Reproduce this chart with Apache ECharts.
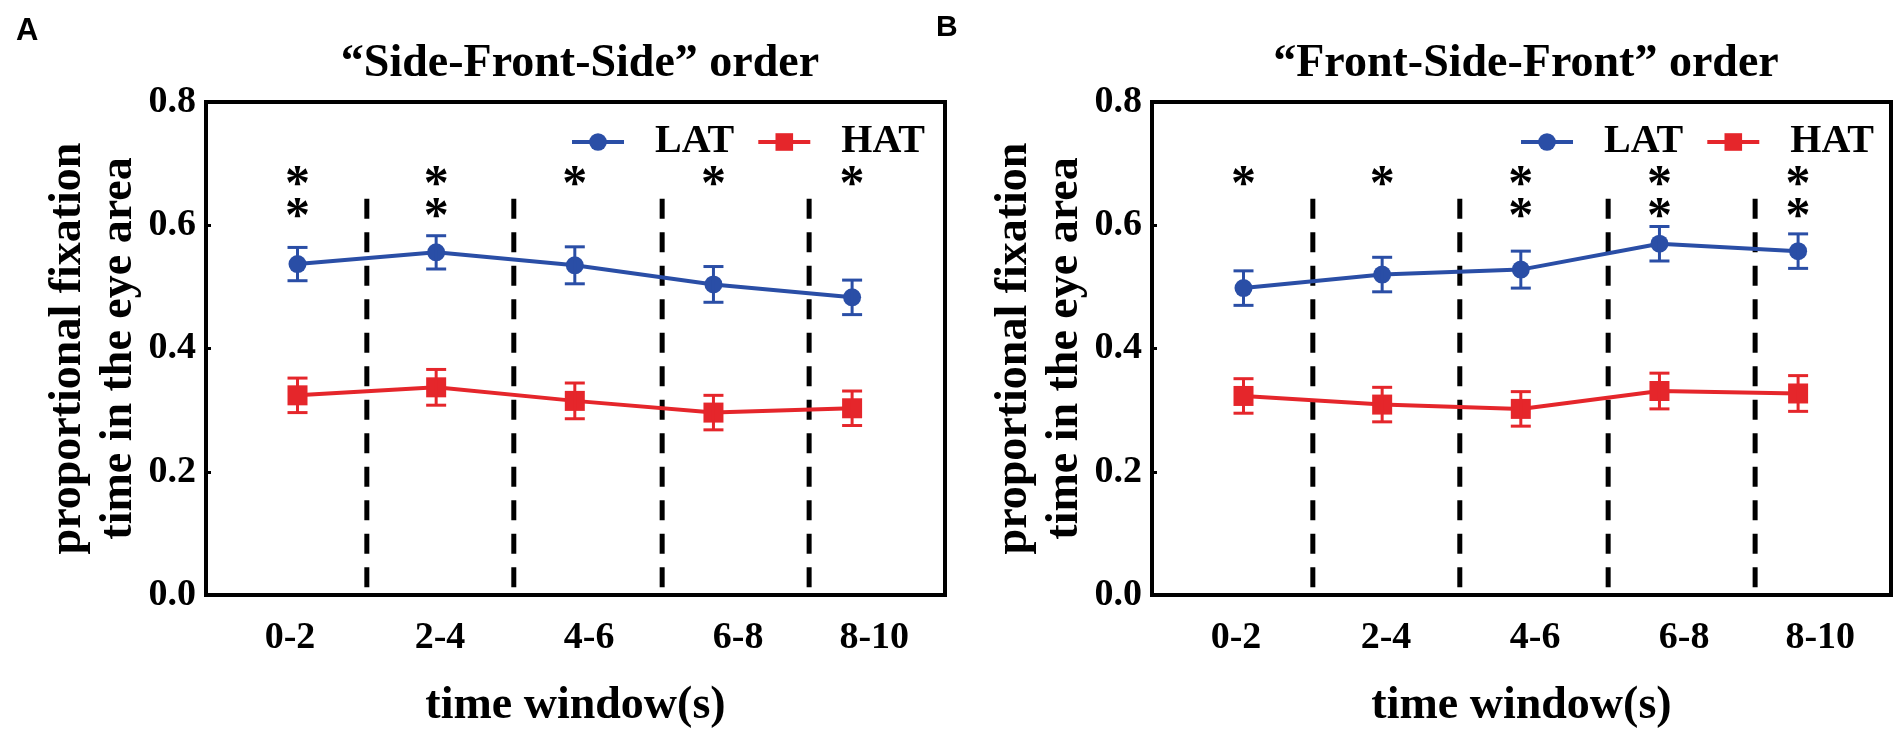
<!DOCTYPE html>
<html>
<head>
<meta charset="utf-8">
<script src="https://cdn.jsdelivr.net/npm/echarts@6/dist/echarts.min.js"></script>
<style>
  html, body { margin: 0; padding: 0; background: #fff; }
  #main { width: 1904px; height: 742px; }
</style>
</head>
<body>
<div id="main"></div>
<script>
var chartDom = document.getElementById('main');
var myChart = echarts.init(chartDom);
var option;

// x categories and where things sit on the (hidden) value x axis
const cats = ['0-2', '2-4', '4-6', '6-8', '8-10'];
const markerX = [1, 2, 3, 4, 5];
const labelX = [0.946, 2.028, 3.103, 4.178, 5.16];
const dividerX = [1.50, 2.56, 3.63, 4.69];
const dividerTop = 0.643;
const starRows = [0.679, 0.628];

// panel A  "Side-Front-Side"
const latA = [0.537, 0.556, 0.535, 0.504, 0.483];
const latAErr = [0.027, 0.027, 0.030, 0.029, 0.028];
const hatA = [0.324, 0.337, 0.315, 0.296, 0.303];
const hatAErr = [0.028, 0.029, 0.029, 0.028, 0.028];
const starsA = [2, 2, 1, 1, 1];

// panel B  "Front-Side-Front"
const latB = [0.498, 0.520, 0.528, 0.570, 0.558];
const latBErr = [0.028, 0.028, 0.030, 0.028, 0.028];
const hatB = [0.323, 0.309, 0.302, 0.331, 0.327];
const hatBErr = [0.028, 0.028, 0.028, 0.029, 0.029];
const starsB = [1, 1, 2, 2, 2];

const BLUE = '#2a4ea6';
const RED = '#e5262b';
const SERIF = '"Liberation Serif", "Times New Roman", serif';

function errData(vals, errs) {
  return vals.map((v, i) => [markerX[i], v - errs[i], v + errs[i]]);
}
function starData(counts) {
  const out = [];
  counts.forEach((c, i) => {
    for (let k = 0; k < c; k++) out.push([markerX[i], starRows[k]]);
  });
  return out;
}

const errorBarRender = function (color) {
  return function (params, api) {
    const lo = api.coord([api.value(0), api.value(1)]);
    const hi = api.coord([api.value(0), api.value(2)]);
    const w = 10;
    const st = { stroke: color, lineWidth: 3 };
    return {
      type: 'group',
      children: [
        { type: 'line', shape: { x1: lo[0], y1: lo[1], x2: hi[0], y2: hi[1] }, style: st },
        { type: 'line', shape: { x1: lo[0] - w, y1: lo[1], x2: lo[0] + w, y2: lo[1] }, style: st },
        { type: 'line', shape: { x1: hi[0] - w, y1: hi[1], x2: hi[0] + w, y2: hi[1] }, style: st }
      ]
    };
  };
};

function dividerRender(params, api) {
  const top = api.coord([api.value(0), dividerTop]);
  const bot = api.coord([api.value(0), 0]);
  return {
    type: 'line',
    shape: { x1: top[0], y1: top[1], x2: bot[0], y2: bot[1] },
    style: { stroke: '#000', lineWidth: 5, lineDash: [20, 13.5] }
  };
}

function starRender(params, api) {
  const p = api.coord([api.value(0), api.value(1)]);
  return {
    type: 'text',
    x: p[0],
    y: p[1] + 10,
    style: {
      text: '*',
      fill: '#000',
      font: 'bold 50px ' + SERIF,
      align: 'center',
      verticalAlign: 'middle'
    }
  };
}

function makeAxes(gi) {
  const xAxis = {
    gridIndex: gi,
    type: 'value',
    min: 0.34,
    max: 5.67,
    splitLine: { show: false },
    axisLine: { lineStyle: { color: '#000', width: 4 } },
    axisTick: { show: false },
    axisLabel: {
      customValues: labelX,
      margin: 24,
      color: '#000',
      fontFamily: SERIF,
      fontWeight: 'bold',
      fontSize: 38,
      formatter: function (v) {
        let best = 0;
        labelX.forEach((x, i) => { if (Math.abs(x - v) < Math.abs(labelX[best] - v)) best = i; });
        return cats[best];
      }
    },
    name: 'time window(s)',
    nameLocation: 'middle',
    nameGap: 88,
    nameTextStyle: { color: '#000', fontFamily: SERIF, fontWeight: 'bold', fontSize: 46 }
  };
  const yAxis = {
    gridIndex: gi,
    type: 'value',
    min: 0,
    max: 0.8,
    interval: 0.2,
    splitLine: { show: false },
    axisLine: { show: true, lineStyle: { color: '#000', width: 4 } },
    axisTick: { show: true, inside: true, length: 5, lineStyle: { color: '#000', width: 3 } },
    axisLabel: {
      margin: 10,
      color: '#000',
      fontFamily: SERIF,
      fontWeight: 'bold',
      fontSize: 38,
      formatter: v => v.toFixed(1)
    },
    name: 'proportional fixation\ntime in the eye area',
    nameLocation: 'middle',
    nameGap: 60,
    nameTextStyle: { color: '#000', fontFamily: SERIF, fontWeight: 'bold', fontSize: 46, lineHeight: 51 }
  };
  return [xAxis, yAxis];
}

const axesA = makeAxes(0);
const axesB = makeAxes(1);

function panelSeries(gi, lat, latErr, hat, hatErr, stars) {
  const lineCommon = {
    type: 'line',
    xAxisIndex: gi,
    yAxisIndex: gi,
    z: 3,
    emphasis: { disabled: true }
  };
  return [
    {
      type: 'custom',
      xAxisIndex: gi, yAxisIndex: gi,
      renderItem: dividerRender,
      data: dividerX.map(x => [x]),
      silent: true, z: 1
    },
    Object.assign({}, lineCommon, {
      name: 'LAT',
      data: lat.map((v, i) => [markerX[i], v]),
      symbol: 'circle', symbolSize: 18,
      lineStyle: { color: BLUE, width: 4 },
      itemStyle: { color: BLUE }
    }),
    Object.assign({}, lineCommon, {
      name: 'HAT',
      data: hat.map((v, i) => [markerX[i], v]),
      symbol: 'rect', symbolSize: 20,
      lineStyle: { color: RED, width: 4 },
      itemStyle: { color: RED }
    }),
    {
      type: 'custom', name: 'LAT',
      xAxisIndex: gi, yAxisIndex: gi,
      renderItem: errorBarRender(BLUE),
      data: errData(lat, latErr), z: 4, silent: true
    },
    {
      type: 'custom', name: 'HAT',
      xAxisIndex: gi, yAxisIndex: gi,
      renderItem: errorBarRender(RED),
      data: errData(hat, hatErr), z: 4, silent: true
    },
    {
      type: 'custom',
      xAxisIndex: gi, yAxisIndex: gi,
      renderItem: starRender,
      data: starData(stars), z: 5, silent: true
    }
  ];
}

function legendAt(right) {
  return {
    right: right,
    top: 117,
    orient: 'horizontal',
    itemWidth: 52,
    itemHeight: 22,
    itemGap: 22,
    data: ['LAT', 'HAT'],
    lineStyle: { width: 4 },
    textStyle: {
      color: '#000',
      fontFamily: SERIF,
      fontWeight: 'bold',
      fontSize: 40,
      padding: [0, 0, 0, 26]
    }
  };
}

option = {
  backgroundColor: '#fff',
  animation: false,
  title: [
    {
      text: '\u201cSide-Front-Side\u201d order',
      left: 575, top: 36, textAlign: 'center',
      textStyle: { color: '#000', fontFamily: SERIF, fontWeight: 'bold', fontSize: 46 }
    },
    {
      text: '\u201cFront-Side-Front\u201d order',
      left: 1521, top: 36, textAlign: 'center',
      textStyle: { color: '#000', fontFamily: SERIF, fontWeight: 'bold', fontSize: 46 }
    },
    {
      text: 'A', left: 11, top: 11,
      textStyle: { color: '#000', fontFamily: '"Liberation Sans", Arial, sans-serif', fontWeight: 'bold', fontSize: 31 }
    },
    {
      text: 'B', left: 931, top: 8,
      textStyle: { color: '#000', fontFamily: '"Liberation Sans", Arial, sans-serif', fontWeight: 'bold', fontSize: 30 }
    }
  ],
  legend: [legendAt(974), legendAt(25)],
  grid: [
    { left: 206, top: 102, width: 739, height: 493, show: true, borderColor: '#000', borderWidth: 4, backgroundColor: 'transparent' },
    { left: 1152, top: 102, width: 739, height: 493, show: true, borderColor: '#000', borderWidth: 4, backgroundColor: 'transparent' }
  ],
  xAxis: [axesA[0], axesB[0]],
  yAxis: [axesA[1], axesB[1]],
  series: [].concat(
    panelSeries(0, latA, latAErr, hatA, hatAErr, starsA),
    panelSeries(1, latB, latBErr, hatB, hatBErr, starsB)
  )
};

option && myChart.setOption(option);
</script>
</body>
</html>
